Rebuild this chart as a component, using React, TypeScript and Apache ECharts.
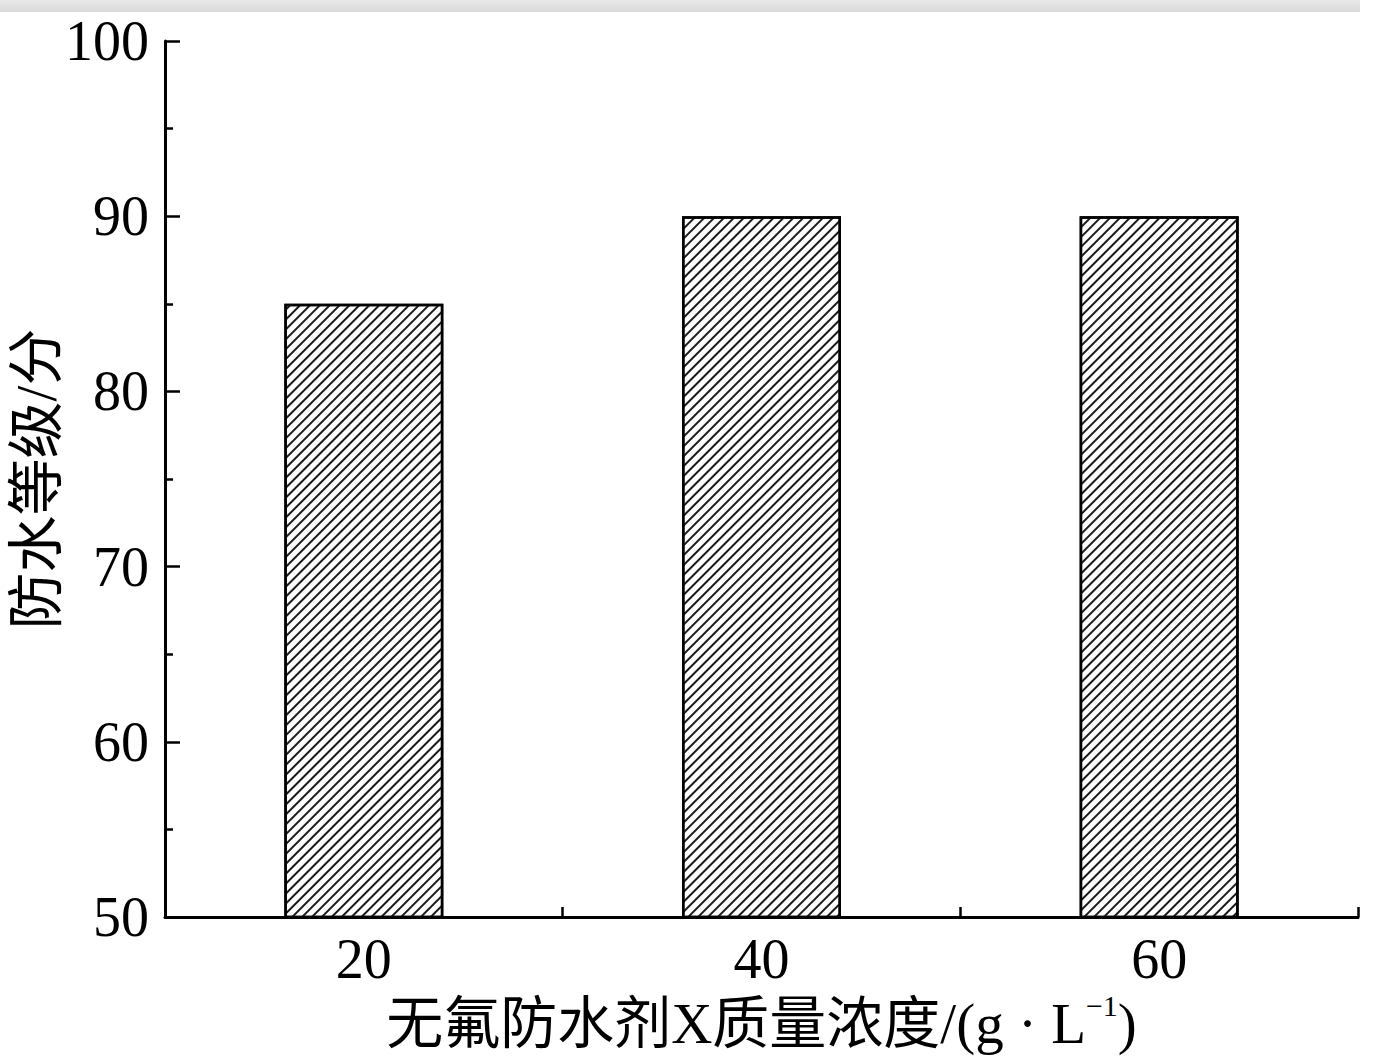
import React, { useEffect, useRef } from "react";
import * as echarts from "echarts";

const concentrations = [20, 40, 60];
const scores = [85, 90, 90];
const xTickValues = [10, 20, 30, 40, 50, 60, 70];
const yTickValues = [50, 60, 70, 80, 90, 100];

export default function App() {
  const ref = useRef<HTMLDivElement>(null);
  useEffect(() => {
    document.body.style.margin = "0";
    const chart = echarts.init(ref.current!, null, { renderer: "svg" });
    const serif = '"Liberation Serif", "Times New Roman", "Noto Sans CJK SC", serif';
    chart.setOption({
      animation: false,
      backgroundColor: "#fff",
      graphic: [
        {
          type: "rect",
          shape: { x: 0, y: 0, width: 1360, height: 12 },
          style: {
            fill: new echarts.graphic.LinearGradient(0, 0, 0, 1, [
              { offset: 0, color: "#e9e9e9" },
              { offset: 1, color: "#dadada" },
            ]),
          },
          z: -1,
        },
      ],
      grid: { left: 165, top: 41, right: 32, bottom: 142, containLabel: false, outerBoundsMode: "none" },
      xAxis: {
        type: "value",
        min: xTickValues[0],
        max: xTickValues[xTickValues.length - 1],
        interval: 10,
        name: "{a|无氟防水剂X质量浓度/(g · L}{sup|−1}{a|)}",
        nameLocation: "middle",
        nameGap: 76,
        nameMoveOverlap: false,
        nameTextStyle: {
          rich: {
            a: { fontFamily: serif, fontSize: 57, color: "#000", lineHeight: 60 },
            sup: { fontFamily: serif, fontSize: 30, color: "#000", lineHeight: 60, padding: [0, 0, 36, 0] },
          },
        },
        axisLine: { lineStyle: { color: "#000", width: 3 } },
        axisTick: { inside: true, length: 10, lineStyle: { color: "#000", width: 2.5 } },
        axisLabel: {
          margin: 14,
          fontFamily: serif,
          fontSize: 56,
          color: "#000",
          formatter: (v: number) => (concentrations.includes(v) ? String(v) : ""),
        },
        splitLine: { show: false },
      },
      yAxis: {
        type: "value",
        min: yTickValues[0],
        max: yTickValues[yTickValues.length - 1],
        interval: 10,
        name: "防水等级/分",
        nameLocation: "middle",
        nameGap: 100,
        nameMoveOverlap: false,
        nameTextStyle: { fontFamily: serif, fontSize: 57, color: "#000" },
        axisLine: { show: true, lineStyle: { color: "#000", width: 3 } },
        axisTick: { inside: true, length: 15, lineStyle: { color: "#000", width: 2.5 } },
        minorTick: { show: true, splitNumber: 2, length: 8, lineStyle: { color: "#000", width: 2.5 } },
        axisLabel: { margin: 16, fontFamily: serif, fontSize: 56, color: "#000" },
        splitLine: { show: false },
      },
      series: [
        {
          type: "bar",
          data: concentrations.map((c, i) => [c, scores[i]]),
          barWidth: 159,
          itemStyle: {
            color: "#fff",
            borderColor: "#000",
            borderWidth: 2.5,
            decal: {
              symbol: "rect",
              symbolSize: 1,
              color: "#1a1a1a",
              backgroundColor: "#fff",
              dashArrayX: [1, 0],
              dashArrayY: [1.7, 4.1],
              rotation: -Math.PI / 4,
            },
          },
        },
      ],
    });
    return () => chart.dispose();
  }, []);
  return <div ref={ref} style={{ width: 1390, height: 1059 }} />;
}
